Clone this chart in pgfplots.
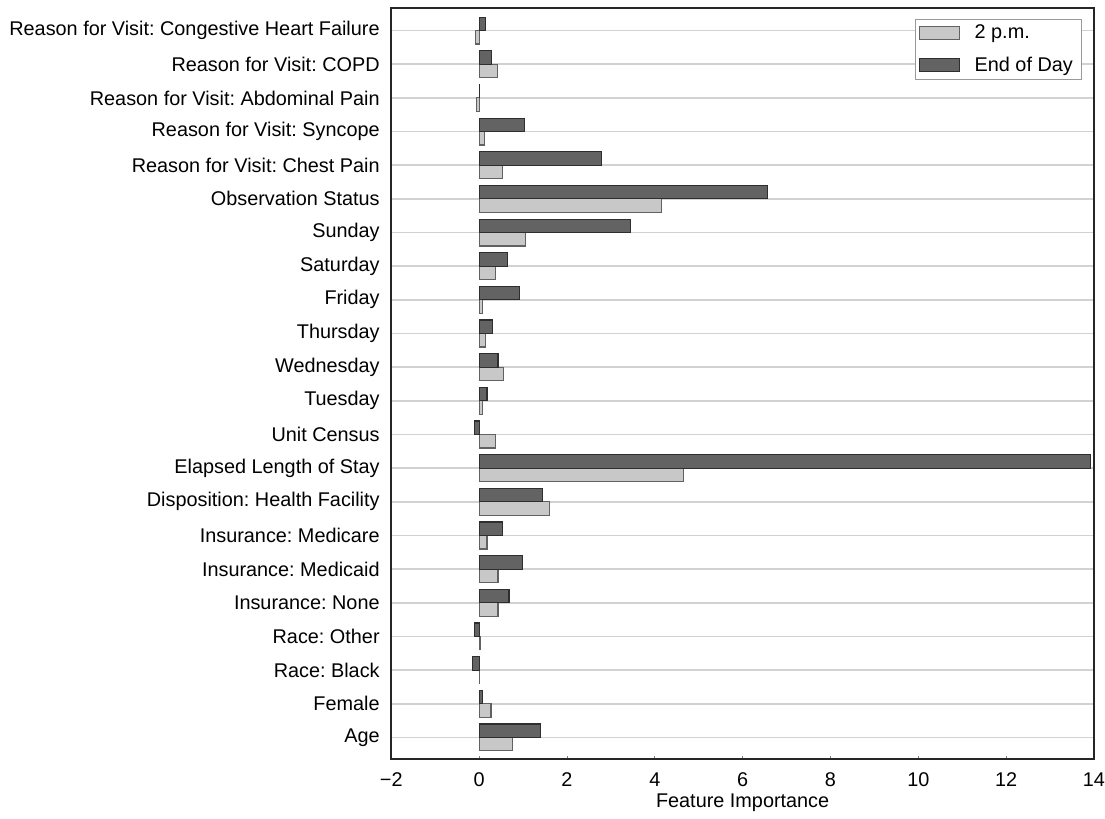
\documentclass[border=0pt]{standalone}
\usepackage{fontspec}
\setmainfont{Liberation Sans}
\usepackage{pgfplots}
\usepackage{pgfplotstable}
\pgfplotsset{compat=1.18}
\definecolor{darkbar}{HTML}{636363}
\definecolor{lightbar}{HTML}{C8C8C8}
\definecolor{gridc}{HTML}{D2D2D2}
\definecolor{frame}{HTML}{262626}
\pgfplotstableread{
y pm eod
0 0.76 1.39
1 0.27 0.08
2 0.005 -0.145
3 0.04 -0.10
4 0.43 0.68
5 0.43 0.99
6 0.18 0.53
7 1.61 1.45
8 4.66 13.93
9 0.37 -0.10
10 0.07 0.18
11 0.56 0.43
12 0.14 0.31
13 0.07 0.92
14 0.38 0.65
15 1.05 3.45
16 4.15 6.56
17 0.53 2.79
18 0.13 1.03
19 -0.06 0.015
20 0.42 0.28
21 -0.08 0.14
}\datatable
\begin{document}
\frenchspacing
\fontsize{14.8}{17.5}\selectfont
\begin{tikzpicture}
\begin{axis}[
  scale only axis,
  width=524pt, height=560pt,
  xmin=-2, xmax=14,
  ymin=-0.64, ymax=21.67,
  xtick={-2,0,...,14},
  xticklabels={−2,0,2,4,6,8,10,12,14},
  ytick={0,...,21},
  yticklabels={Age,Female,Race: Black,Race: Other,Insurance: None,Insurance: Medicaid,Insurance: Medicare,Disposition: Health Facility,Elapsed Length of Stay,Unit Census,Tuesday,Wednesday,Thursday,Friday,Saturday,Sunday,Observation Status,Reason for Visit: Chest Pain,Reason for Visit: Syncope,Reason for Visit: Abdominal Pain,Reason for Visit: COPD,Reason for Visit: Congestive Heart Failure},
  ymajorgrids,
  major grid style={draw=gridc, line width=1.3pt},
  y tick style={draw=none},
  x tick style={draw=frame!60, line width=0.5pt},
  tick align=inside,
  major tick length=2.5pt,
  xtick pos=bottom,
  axis line style={draw=none},
  yticklabel style={font=\fontsize{14.8}{17.5}\selectfont\frenchspacing, inner sep=0pt, xshift=-6pt},
  xticklabel style={font=\fontsize{14.8}{17.5}\selectfont, inner sep=0pt, yshift=-10pt},
  xlabel={Feature Importance},
  xlabel style={font=\fontsize{14.8}{17.5}\selectfont, yshift=-0.5pt},
  xbar,
  bar width=0.4,
  legend cell align=left,
  legend style={at={(0.982,0.985)}, anchor=north east, draw=black!40, line width=0.6pt,
    font=\fontsize{14.8}{17.5}\selectfont, inner xsep=2pt, inner ysep=2pt, row sep=7pt,
    column sep=7pt, nodes={inner xsep=4pt}},
  legend image code/.code={\draw[#1, bar shift=0pt] (0pt,-4.8pt) rectangle (30pt,5pt);},
  after end axis/.code={\draw[frame, line width=1.6pt] (rel axis cs:0,0) rectangle (rel axis cs:1,1);},
]
\addplot[fill=lightbar, draw=black!62, line width=0.85pt, bar shift=-0.2] table[x=pm, y=y] {\datatable};
\addlegendentry{2 p.m.}
\addplot[fill=darkbar, draw=black!82, line width=0.85pt, bar shift=0.2] table[x=eod, y=y] {\datatable};
\addlegendentry{End of Day}
\end{axis}
\path ([yshift=6pt]current axis.north);
\path ([xshift=-7pt]current axis.outer west);
\end{tikzpicture}
\end{document}
